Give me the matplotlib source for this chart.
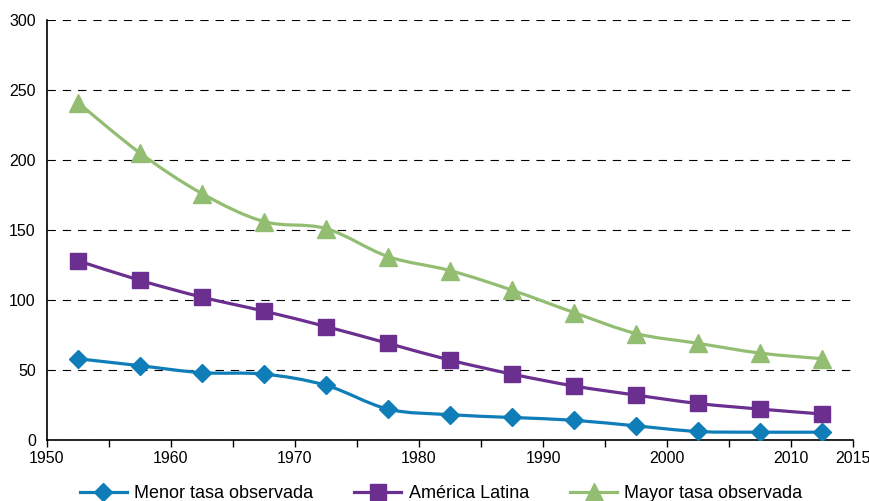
import numpy as np
import matplotlib.pyplot as plt
from matplotlib.path import Path
from matplotlib.patches import PathPatch
from matplotlib.lines import Line2D

plt.rcParams['font.family'] = ['Liberation Sans', 'DejaVu Sans']
plt.rcParams['lines.scale_dashes'] = False

# Data (five-year periods, plotted at period midpoints)
years = [1952.5, 1957.5, 1962.5, 1967.5, 1972.5, 1977.5, 1982.5,
         1987.5, 1992.5, 1997.5, 2002.5, 2007.5, 2012.5]
menor = [58, 53, 48, 47, 39, 22, 18, 16, 14, 10, 6, 5.5, 5.5]
america_latina = [128, 114, 102, 92, 81, 69, 57, 47, 38.5, 32, 26, 22, 18.5]
mayor = [241, 205, 176, 156, 151, 131, 121, 107, 91, 76, 69, 62, 58]

labels = ['Menor tasa observada', 'América Latina', 'Mayor tasa observada']
colors = ['#0F7DB8', '#6A2F8F', '#93BE72']
markers = ['D', 's', '^']
msizes = [9.5, 12, 13.5]

x_ticks = [1950, 1955, 1960, 1965, 1970, 1975, 1980, 1985, 1990, 1995, 2000, 2005, 2010, 2015]
x_ticklabels = ['1950', '', '1960', '', '1970', '', '1980', '', '1990', '', '2000', '', '2010', '2015']


def smooth_path(x, y):
    # Bezier curve through the points (like a spreadsheet "smoothed line")
    p = np.column_stack([x, y]).astype(float)
    ext = np.vstack([p[0], p, p[-1]])
    verts = [p[0]]
    codes = [Path.MOVETO]
    for i in range(len(p) - 1):
        p0, p1, p2, p3 = ext[i], ext[i + 1], ext[i + 2], ext[i + 3]
        verts += [p1 + (p2 - p0) / 6, p2 - (p3 - p1) / 6, p2]
        codes += [Path.CURVE4] * 3
    return Path(verts, codes)


fig = plt.figure(figsize=(8.7, 5.01), dpi=100)
ax = fig.add_axes([0.054, 0.122, 0.9265, 0.838])

handles = []
for vals, lab, c, m, ms in zip([menor, america_latina, mayor], labels, colors, markers, msizes):
    ax.add_patch(PathPatch(smooth_path(years, vals), fill=False, edgecolor=c, lw=2.3, zorder=3))
    ax.plot(years, vals, linestyle='none', marker=m, markersize=ms, color=c, zorder=4)
    handles.append(Line2D([], [], color=c, lw=2.3, marker=m, markersize=ms))

ax.set_xlim(1950, 2015)
ax.set_ylim(0, 300)
ax.set_xticks(x_ticks)
ax.set_xticklabels(x_ticklabels, fontsize=11.5)
ax.set_yticks(np.arange(0, 301, 50))
ax.tick_params(axis='y', length=0, labelsize=11.5, pad=8)
ax.tick_params(axis='x', length=5, width=1, direction='out', pad=3)

ax.grid(axis='y', color='black', linestyle=(0, (6, 5)), linewidth=0.8)
ax.set_axisbelow(True)
for s in ['top', 'right']:
    ax.spines[s].set_visible(False)
for s in ['left', 'bottom']:
    ax.spines[s].set_linewidth(1.2)

fig.legend(handles, labels, loc='center', bbox_to_anchor=(0.507, 0.014), ncol=3,
           frameon=False, fontsize=13, handlelength=2.6, columnspacing=2.3, handletextpad=0.4)

plt.savefig('out.png', dpi=100)
